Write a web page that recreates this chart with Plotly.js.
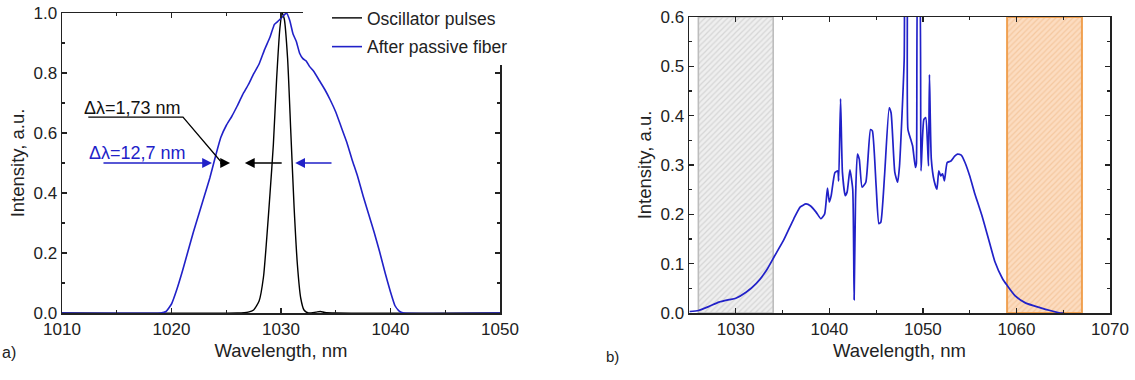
<!DOCTYPE html>
<html>
<head>
<meta charset="utf-8">
<script src="https://cdn.plot.ly/plotly-3.0.1.min.js"></script>
<style>
html,body{margin:0;padding:0;background:#fff;}
#chart{width:1135px;height:380px;}
</style>
</head>
<body>
<div id="chart"></div>
<script>
// ---------- Panel a) data ----------
const oscX = [1010, 1026, 1027, 1027.5, 1028, 1028.4, 1028.7, 1029.0, 1029.3, 1029.6, 1029.9, 1030.1, 1030.3, 1030.6, 1030.9, 1031.2, 1031.5, 1031.8, 1032.1, 1032.5, 1033.2, 1033.6, 1034, 1035, 1050];
const oscY = [0, 0, 0.003, 0.01, 0.04, 0.12, 0.25, 0.40, 0.56, 0.78, 0.95, 1.0, 0.98, 0.85, 0.6, 0.35, 0.16, 0.05, 0.01, 0.0, 0.003, 0.005, 0.002, 0, 0];

const fiberX = [1010, 1019.0, 1019.5, 1020.0, 1020.5, 1021.0, 1021.5, 1022.0, 1022.5, 1023.0, 1023.5, 1024.0, 1024.5, 1025.0, 1025.5, 1026.0, 1026.5, 1027.0, 1027.5, 1028.0, 1028.5, 1029.0, 1029.4, 1029.8, 1030.2, 1030.5, 1030.8, 1031.1, 1031.4, 1031.7, 1032.0, 1032.3, 1032.6, 1033.0, 1033.5, 1034.0, 1034.5, 1035.0, 1035.5, 1036.0, 1036.5, 1037.0, 1037.5, 1038.0, 1038.5, 1039.0, 1039.5, 1040.0, 1040.4, 1040.8, 1041.2, 1050];
const fiberY = [0, 0, 0.005, 0.03, 0.08, 0.14, 0.205, 0.27, 0.33, 0.39, 0.45, 0.52, 0.585, 0.625, 0.655, 0.69, 0.728, 0.76, 0.797, 0.83, 0.878, 0.92, 0.962, 0.975, 0.99, 1.0, 0.975, 0.93, 0.905, 0.866, 0.848, 0.84, 0.822, 0.805, 0.775, 0.745, 0.71, 0.67, 0.62, 0.57, 0.51, 0.455, 0.39, 0.33, 0.27, 0.205, 0.135, 0.07, 0.025, 0.006, 0, 0];

// ---------- Panel b) data ----------
const specX = [1025.07, 1026.0, 1027.1, 1028.2, 1029.3, 1030.0, 1031.1, 1032.2, 1033.3, 1034.1, 1035.1, 1036.2, 1036.9, 1037.5, 1038.0, 1038.6, 1039.1, 1039.5, 1039.8, 1040.0, 1040.2, 1040.6, 1040.9, 1041.0, 1041.2, 1041.4, 1041.7, 1041.9, 1042.2, 1042.5, 1042.65, 1042.8, 1043.0, 1043.2, 1043.5, 1043.9, 1044.4, 1044.6, 1045.0, 1045.3, 1045.5, 1045.9, 1046.4, 1046.6, 1047.0, 1047.3, 1047.5, 1048.0, 1048.1, 1048.3, 1048.4, 1048.7, 1048.9, 1049.2, 1049.3, 1049.5, 1049.6, 1049.8, 1050.1, 1050.3, 1050.5, 1050.6, 1050.7, 1050.9, 1051.2, 1051.5, 1051.7, 1051.9, 1052.1, 1052.3, 1052.6, 1053.0, 1053.4, 1053.7, 1054.1, 1054.5, 1055.0, 1055.5, 1056.3, 1057.0, 1057.7, 1058.5, 1059.0, 1059.9, 1061.0, 1062.5, 1063.6, 1064.7, 1065.1];
const specY = [0.003, 0.005, 0.013, 0.022, 0.027, 0.030, 0.042, 0.060, 0.087, 0.114, 0.147, 0.191, 0.215, 0.221, 0.217, 0.204, 0.191, 0.201, 0.253, 0.225, 0.238, 0.285, 0.288, 0.268, 0.434, 0.285, 0.238, 0.245, 0.290, 0.251, 0.027, 0.231, 0.322, 0.312, 0.255, 0.265, 0.372, 0.369, 0.258, 0.181, 0.184, 0.278, 0.416, 0.406, 0.285, 0.265, 0.298, 0.513, 0.72, 0.70, 0.372, 0.352, 0.339, 0.295, 0.302, 0.70, 0.70, 0.288, 0.392, 0.396, 0.339, 0.298, 0.483, 0.312, 0.268, 0.251, 0.288, 0.278, 0.282, 0.268, 0.305, 0.308, 0.318, 0.322, 0.320, 0.305, 0.278, 0.245, 0.198, 0.151, 0.104, 0.070, 0.056, 0.034, 0.020, 0.011, 0.005, 0.0, 0.0];

// shaded bands (wavelength limits, nm)
const bandStart = [1026, 1059];
const bandEnd   = [1034, 1067];
const bandTop   = 0.6;

// axis tick labels
const xTicksA = [1010, 1020, 1030, 1040, 1050];
const yTicksA = [0.0, 0.2, 0.4, 0.6, 0.8, 1.0];
const xTicksB = [1030, 1040, 1050, 1060, 1070];
const yTicksB = [0.0, 0.1, 0.2, 0.3, 0.4, 0.5, 0.6];

// ---------- layout helpers ----------
const W = 1135, H = 380;
const px = v => v / W;
const py = v => 1 - v / H;
const INK = '#222';
const BLUE = '#2121c8';
const FONT = 'Liberation Sans, Arial, sans-serif';

function axis(extra) {
  return Object.assign({
    showline: true, linecolor: INK, linewidth: 1.5, mirror: 'ticks',
    ticks: 'inside', ticklen: 5, tickwidth: 1.4, tickcolor: INK,
    showgrid: false, zeroline: false, fixedrange: true,
    tickfont: {size: 17, color: INK, family: FONT}
  }, extra);
}

const traces = [
  {x: [(bandStart[0]+bandEnd[0])/2], y: [bandTop], width: [bandEnd[0]-bandStart[0]], base: [0],
   type: 'bar', xaxis: 'x2', yaxis: 'y2', showlegend: false, hoverinfo: 'skip',
   marker: {color: '#d6d6d6', line: {color: '#bdbdbd', width: 1.6},
            pattern: {shape: '/', bgcolor: '#efefef', fgcolor: '#d6d6d6', size: 4, solidity: 0.3}}},
  {x: [(bandStart[1]+bandEnd[1])/2], y: [bandTop], width: [bandEnd[1]-bandStart[1]], base: [0],
   type: 'bar', xaxis: 'x2', yaxis: 'y2', showlegend: false, hoverinfo: 'skip',
   marker: {color: '#f6c9a0', line: {color: '#f0a050', width: 2},
            pattern: {shape: '/', bgcolor: '#fcdcc0', fgcolor: '#f5c8a0', size: 4, solidity: 0.3}}},
  {x: oscX, y: oscY, type: 'scatter', mode: 'lines', name: 'Oscillator pulses', legendgroup: 'a',
   line: {color: '#000', width: 1.4, shape: 'spline', smoothing: 0.6}, xaxis: 'x', yaxis: 'y'},
  {x: fiberX, y: fiberY, type: 'scatter', mode: 'lines', name: 'After passive fiber', legendgroup: 'b',
   line: {color: BLUE, width: 1.6, shape: 'spline', smoothing: 0.4}, xaxis: 'x', yaxis: 'y'},
  {x: specX, y: specY, type: 'scatter', mode: 'lines', name: 'Spectrum', showlegend: false,
   line: {color: BLUE, width: 1.7, shape: 'spline', smoothing: 0.5}, xaxis: 'x2', yaxis: 'y2'}
];

const arrowCommon = {xref: 'x', yref: 'y', axref: 'x', ayref: 'y', text: '', showarrow: true,
  arrowhead: 2, arrowsize: 1.4, arrowwidth: 1.4, standoff: 0, startstandoff: 0};

const layout = {
  width: W, height: H,
  margin: {l: 0, r: 0, t: 0, b: 0},
  paper_bgcolor: '#fff', plot_bgcolor: '#fff',
  font: {family: FONT, color: INK, size: 17},
  barmode: 'overlay', bargap: 0,
  showlegend: true,
  legend: {x: px(327), y: 1, xanchor: 'left', yanchor: 'top', bgcolor: '#fff',
           borderwidth: 0, font: {size: 17.5, color: INK, family: FONT},
           traceorder: 'grouped', tracegroupgap: 3},
  xaxis: axis({domain: [px(62), px(500)], range: [1010, 1050], tickvals: xTicksA,
               ticktext: xTicksA.map(String), anchor: 'y',
               minor: {dtick: 5, ticks: 'inside', ticklen: 3, tickwidth: 1.2, tickcolor: INK},
               title: {text: 'Wavelength, nm', font: {size: 18.5, color: INK, family: FONT}, standoff: 6}}),
  yaxis: axis({domain: [py(313), py(13)], range: [0, 1.0], tickvals: yTicksA,
               ticktext: yTicksA.map(v => v.toFixed(1)), anchor: 'x',
               minor: {dtick: 0.1, ticks: 'inside', ticklen: 3, tickwidth: 1.2, tickcolor: INK},
               title: {text: 'Intensity, a.u.', font: {size: 18.5, color: INK, family: FONT}, standoff: 4}}),
  xaxis2: axis({domain: [px(689), px(1110)], range: [1025, 1070], tickvals: xTicksB,
               ticktext: xTicksB.map(String), anchor: 'y2',
               minor: {dtick: 5, ticks: 'inside', ticklen: 3, tickwidth: 1.2, tickcolor: INK},
               title: {text: 'Wavelength, nm', font: {size: 18.5, color: INK, family: FONT}, standoff: 6}}),
  yaxis2: axis({domain: [py(313), py(17)], range: [0, 0.6], tickvals: yTicksB,
               ticktext: yTicksB.map(v => v.toFixed(1)), anchor: 'x2',
               minor: {dtick: 0.05, ticks: 'inside', ticklen: 3, tickwidth: 1.2, tickcolor: INK},
               title: {text: 'Intensity, a.u.', font: {size: 18.5, color: INK, family: FONT}, standoff: 4}}),
  shapes: [
    {type: 'path', xref: 'x', yref: 'y', path: 'M1012.4,0.653 L1021.05,0.653 L1024.5,0.505',
     line: {color: '#000', width: 1.3}},
    // white cover for the frame behind the legend's left part
    {type: 'rect', xref: 'paper', yref: 'paper', layer: 'above',
     x0: px(303), x1: px(332), y0: py(22), y1: 1, fillcolor: '#fff', line: {width: 0}}
  ],
  annotations: [
    Object.assign({}, arrowCommon, {x: 1025.35, y: 0.5, ax: 1024.3, ay: 0.5, arrowcolor: '#000'}),
    Object.assign({}, arrowCommon, {x: 1026.7, y: 0.5, ax: 1030.2, ay: 0.5, arrowcolor: '#000'}),
    Object.assign({}, arrowCommon, {x: 1023.7, y: 0.5, ax: 1013.65, ay: 0.5, arrowcolor: BLUE}),
    Object.assign({}, arrowCommon, {x: 1031.3, y: 0.5, ax: 1034.75, ay: 0.5, arrowcolor: BLUE}),
    {xref: 'x', yref: 'y', x: 1011.85, y: 0.683, xanchor: 'left', yanchor: 'middle', showarrow: false,
     text: 'Δλ=1,73 nm', font: {size: 18, color: '#111', family: FONT}},
    {xref: 'x', yref: 'y', x: 1012.25, y: 0.535, xanchor: 'left', yanchor: 'middle', showarrow: false,
     text: 'Δλ=12,7 nm', font: {size: 18, color: BLUE, family: FONT}},
    {xref: 'paper', yref: 'paper', x: 0, y: py(352), xanchor: 'left', yanchor: 'middle', showarrow: false,
     text: 'a)', font: {size: 16, color: INK, family: FONT}},
    {xref: 'paper', yref: 'paper', x: px(604), y: py(356), xanchor: 'left', yanchor: 'middle', showarrow: false,
     text: 'b)', font: {size: 15, color: INK, family: FONT}}
  ]
};

Plotly.newPlot('chart', traces, layout, {displayModeBar: false, staticPlot: true});
</script>
</body>
</html>
